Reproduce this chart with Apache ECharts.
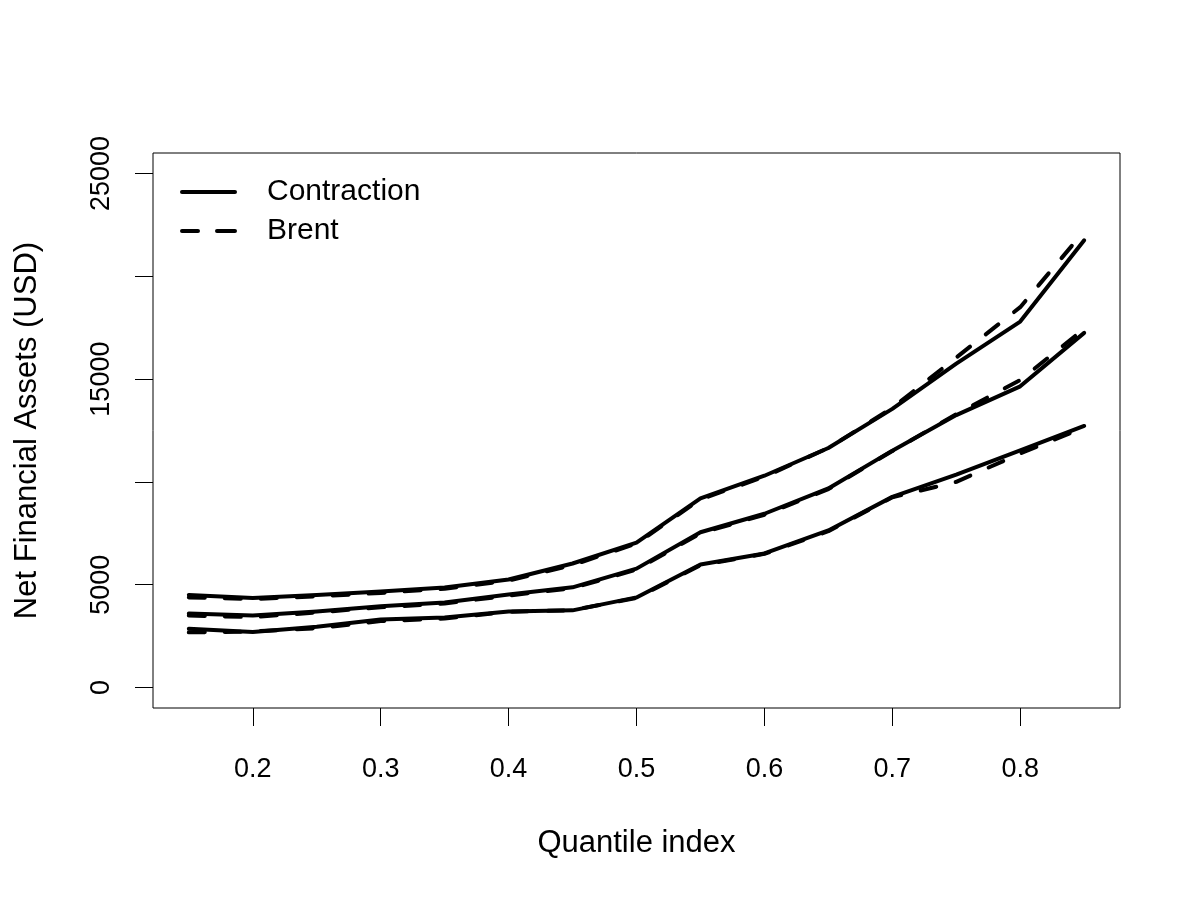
<!DOCTYPE html>
<html>
<head>
<meta charset="utf-8">
<script src="https://cdn.jsdelivr.net/npm/echarts@6/dist/echarts.min.js"></script>
<style>html,body{margin:0;padding:0;background:#fff}#c{width:1200px;height:900px}</style>
</head>
<body>
<div id="c"></div>
<script>
const quantiles = [0.15,0.2,0.25,0.3,0.35,0.4,0.45,0.5,0.55,0.6,0.65,0.7,0.75,0.8,0.85];
const contractionUpper = [4500,4350,4500,4670,4860,5250,6030,7050,9200,10300,11650,13550,15750,17800,21750];
const contractionMid   = [3600,3500,3700,3950,4130,4520,4870,5780,7550,8450,9680,11520,13250,14650,17250];
const contractionLow   = [2850,2700,2950,3300,3400,3700,3750,4380,5980,6520,7640,9270,10350,11530,12720];
const brentUpper = [4380,4300,4430,4600,4800,5200,5950,7000,9150,10250,11650,13600,16050,18500,22200];
const brentMid   = [3500,3420,3650,3900,4080,4470,4830,5730,7500,8400,9650,11500,13300,14950,17450];
const brentLow   = [2680,2720,2880,3230,3350,3680,3760,4350,5950,6500,7600,9250,10000,11380,12650];
const xTicks = [0.2,0.3,0.4,0.5,0.6,0.7,0.8];
const yTicks = [0,5000,10000,15000,20000,25000];
const yLabels = [0,5000,15000,25000];
const legendNames = ['Contraction','Brent'];

const FONT = 'Liberation Sans';
const pairs = ys => quantiles.map((q,i)=>[q, ys[i]]);
const solid = {color:'#000', width:4, type:'solid', cap:'round', join:'round'};
const dashed = {color:'#000', width:4, type:[16,20], cap:'round', join:'round'};
function mk(name, ys, ls){
  return {type:'line', name:name, data:pairs(ys), symbol:'none', showSymbol:false,
    lineStyle:ls, itemStyle:{color:'#000'}, animation:false, silent:true};
}

const chart = echarts.init(document.getElementById('c'), null, {renderer:'canvas'});
chart.setOption({
  backgroundColor:'#fff',
  animation:false,
  textStyle:{fontFamily:FONT, color:'#000'},
  grid:{left:153, right:80, top:153, bottom:192, show:true, borderColor:'#000', borderWidth:1, backgroundColor:'transparent'},
  legend:{
    orient:'vertical', left:175, top:172,
    data:[
      {name:legendNames[0], icon:'path://M2,0H55A2,2 0 0 1 55,4H2A2,2 0 0 1 2,0Z'},
      {name:legendNames[1], icon:'path://M2,0H18A2,2 0 0 1 18,4H2A2,2 0 0 1 2,0Z M37,0H55A2,2 0 0 1 55,4H37A2,2 0 0 1 37,0Z'}
    ],
    itemWidth:57, itemHeight:4, itemGap:9,
    itemStyle:{color:'#000', borderWidth:0},
    lineStyle:{width:0},
    textStyle:{fontFamily:FONT, fontSize:30, color:'#000', padding:[0,0,0,25]},
    selectedMode:false
  },
  xAxis:{
    type:'value', min:0.122, max:0.878,
    axisLine:{show:false, onZero:false},
    splitLine:{show:false},
    axisTick:{show:true, inside:false, length:18, customValues:xTicks, lineStyle:{color:'#000', width:1}},
    axisLabel:{customValues:xTicks, margin:48, fontSize:27, color:'#000', fontFamily:FONT, formatter:v=>v.toFixed(1)},
    name:'Quantile index', nameLocation:'middle', nameGap:120,
    nameTextStyle:{fontSize:31, color:'#000', fontFamily:FONT}
  },
  yAxis:{
    type:'value', min:-1000, max:26000,
    axisLine:{show:false, onZero:false},
    splitLine:{show:false},
    axisTick:{show:true, inside:false, length:18, customValues:yTicks, lineStyle:{color:'#000', width:1}},
    axisLabel:{customValues:yLabels, rotate:90, margin:38, fontSize:27, color:'#000', fontFamily:FONT, formatter:v=>String(v)},
    name:'Net Financial Assets (USD)', nameLocation:'middle', nameGap:110, nameRotate:90,
    nameTextStyle:{fontSize:31, color:'#000', fontFamily:FONT}
  },
  series:[
    mk(legendNames[0], contractionUpper, solid),
    mk(legendNames[0], contractionMid, solid),
    mk(legendNames[0], contractionLow, solid),
    mk(legendNames[1], brentUpper, dashed),
    mk(legendNames[1], brentMid, dashed),
    mk(legendNames[1], brentLow, dashed)
  ]
});
</script>
</body>
</html>
